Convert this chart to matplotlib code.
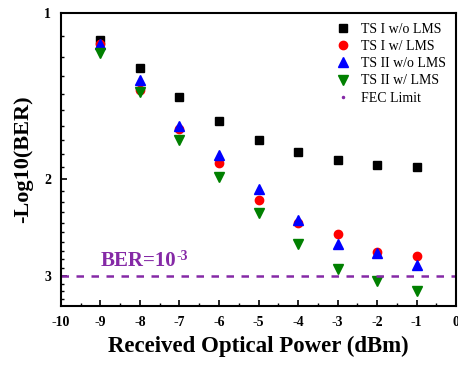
import matplotlib
matplotlib.use("Agg")
from matplotlib import pyplot as plt
from matplotlib.lines import Line2D
from matplotlib.ticker import FixedLocator, FixedFormatter, NullFormatter, MultipleLocator
import numpy as np

power = [-9, -8, -7, -6, -5, -4, -3, -2, -1]
ts1_wo = [1.12, 1.26, 1.42, 1.57, 1.70, 1.79, 1.85, 1.89, 1.90]
ts1_w = [1.14, 1.38, 1.62, 1.87, 2.18, 2.40, 2.52, 2.72, 2.76]
ts2_wo = [1.14, 1.32, 1.60, 1.81, 2.09, 2.37, 2.63, 2.73, 2.87]
ts2_w = [1.18, 1.39, 1.70, 1.98, 2.31, 2.63, 2.92, 3.07, 3.19]
fec = 3.0

plt.rcParams['font.family'] = ['Liberation Serif', 'DejaVu Serif']
plt.rcParams['axes.unicode_minus'] = False
purple = '#8529a6'

fig = plt.figure(figsize=(4.58, 3.65), dpi=100)
ax = fig.add_axes([0.133, 0.162, 0.863, 0.802])

ax.plot(power, ts1_wo, 's', color='black', markersize=5.5, label='TS I w/o LMS')
ax.plot(power, ts1_w, 'o', color='red', markersize=6, label='TS I w/ LMS')
ax.plot(power, ts2_wo, '^', color='blue', markersize=7, label='TS II w/o LMS')
ax.plot(power, ts2_w, 'v', color='green', markersize=7, label='TS II w/ LMS')
ax.axhline(fec, color=purple, linestyle=(0, (3, 3)), linewidth=1.8)

# BER=10^-3 label, superscript drawn as its own small text
t = ax.text(-9.0, 2.88, 'BER=10', color=purple, fontsize=15,
            fontweight='bold', va='baseline', ha='left')
ax.annotate('-3', xy=(1, 1), xycoords=t, xytext=(0.5, 1), textcoords='offset points',
            color=purple, fontsize=10, fontweight='bold', va='top', ha='left')

ax.set_yscale('log')
ax.set_xlim(-10, 0)
ax.set_ylim(3.4, 1)
ax.yaxis.set_major_locator(FixedLocator([1, 2, 3]))
ax.yaxis.set_major_formatter(FixedFormatter(['1', '2', '3']))
ax.yaxis.set_minor_locator(FixedLocator(np.arange(1.1, 3.4, 0.1)))
ax.yaxis.set_minor_formatter(NullFormatter())
ax.xaxis.set_major_locator(MultipleLocator(1))
ax.xaxis.set_minor_locator(MultipleLocator(0.5))
ax.tick_params(which='both', direction='in', labelsize=10)
ax.tick_params(which='major', length=4, width=1.2)
ax.tick_params(which='minor', length=2.5, width=1)
ax.tick_params(axis='x', which='major', pad=7)
ax.tick_params(axis='y', which='major', pad=7)
for lbl in ax.get_xticklabels() + ax.get_yticklabels():
    lbl.set_fontweight('bold')
for s in ax.spines.values():
    s.set_linewidth(1.5)

ax.set_xlabel('Received Optical Power (dBm)', fontsize=16.5, fontweight='bold', labelpad=5)
ax.set_ylabel('-Log10(BER)', fontsize=16, fontweight='bold', labelpad=8)

handles, labels = ax.get_legend_handles_labels()
handles.append(Line2D([], [], linestyle='none', marker='.', markersize=3, color=purple))
labels.append('FEC Limit')
ax.legend(handles, labels, loc='upper right', frameon=False, fontsize=10,
          handletextpad=0.6, labelspacing=0.3, borderaxespad=0.5,
          borderpad=0.2, handlelength=1.5)

fig.savefig('out.png', dpi=100)
